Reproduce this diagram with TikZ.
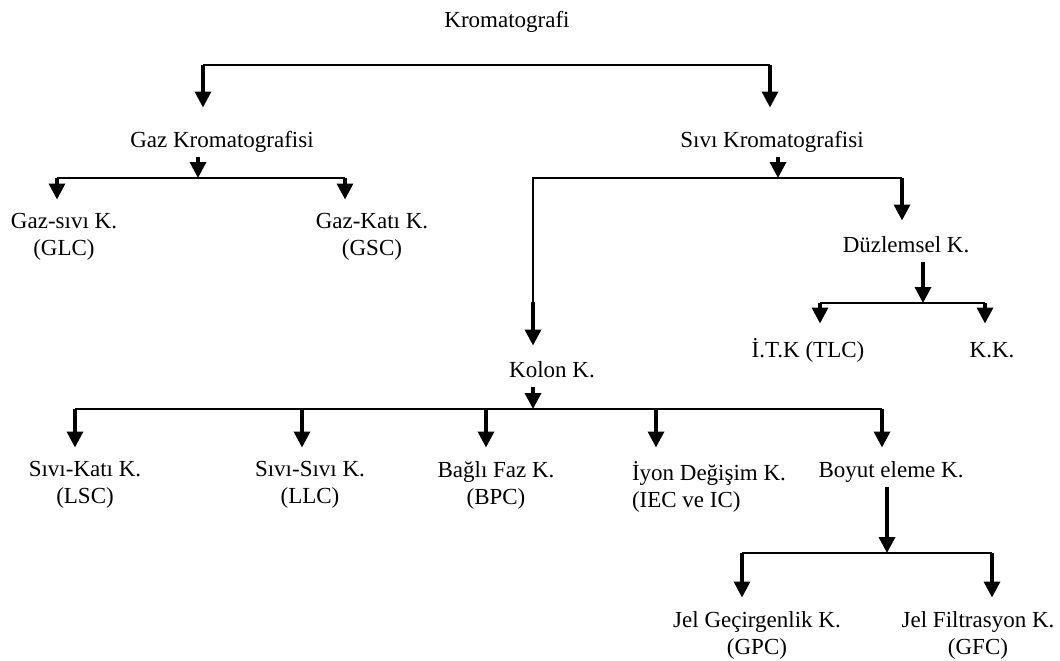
\documentclass[tikz,border=0pt]{standalone}
\usepackage{fontspec}
\setmainfont{Liberation Serif}
\usetikzlibrary{arrows.meta}

\begin{document}
\begin{tikzpicture}[x=0.5pt,y=-0.5pt,
  lbl/.style={font=\fontsize{11.5}{13.6}\selectfont,inner sep=0pt,outer xsep=0pt,outer ysep=4pt,anchor=north},
  one/.style={lbl,text height=8pt,text depth=2.5pt},
  two/.style={lbl,align=center},
  bar/.style={line width=0.7pt},
  arr/.style={line width=1.7pt,-{Triangle[width=8pt,length=8pt]},shorten >=3pt},
  fork/.style={arr,shorten >=0pt,shorten <=-2pt}]
\useasboundingbox (0,0) rectangle (1060,660);
% labels
\node [one] (krom) at (507,3.5) {Kromatografi};
\node [one] (gaz) at (222,123.5) {Gaz Kromatografisi};
\node [one] (sivi) at (772,123.5) {Sıvı Kromatografisi};
\node [two] (gsv) at (64,205.5) {Gaz-sıvı K.\\(GLC)};
\node [two] (gkt) at (372,205.5) {Gaz-Katı K.\\(GSC)};
\node [one] (duz) at (906,228.5) {Düzlemsel K.};
\node [one] (itk) at (808,333.5) {İ.T.K (TLC)};
\node [one] (kk) at (992,333.5) {K.K.};
\node [one] (kol) at (552,353.5) {Kolon K.};
\node [two] (lsc) at (85,453.5) {Sıvı-Katı K.\\(LSC)};
\node [two] (llc) at (310,453.5) {Sıvı-Sıvı K.\\(LLC)};
\node [two] (bpc) at (496,453.5) {Bağlı Faz K.\\(BPC)};
\node [lbl,align=left,anchor=north west] (iec) at (632,453.5) {İyon Değişim K.\\(IEC ve IC)};
\node [one] (boy) at (891,453.5) {Boyut eleme K.};
\node [two] (gpc) at (757,603.5) {Jel Geçirgenlik K.\\(GPC)};
\node [two] (gfc) at (978,603.5) {Jel Filtrasyon K.\\(GFC)};

% Kromatografi
\coordinate (kL) at (203,65);
\coordinate (kR) at (770,65);
\draw [bar] (kL) -- (kR);
\draw [arr,shorten >=8pt] (kL) -- (kL |- gaz.north);
\draw [arr,shorten >=8pt] (kR) -- (kR |- sivi.north);

% Gaz
\coordinate (gF) at (198,178);
\coordinate (gL) at (57,178);
\coordinate (gR) at (345,178);
\draw [fork] (gF |- gaz.south) -- (gF);
\draw [bar] (gL) -- (gR);
\foreach \fk/\nm in {gL/gsv,gR/gkt}
  \draw [arr] (\fk) -- (\fk |- \nm.north);

% Sivi
\coordinate (sF) at (778,178);
\coordinate (sL) at (533,178);
\coordinate (sR) at (902,178);
\coordinate (sK) at (533,302);
\draw [fork] (sF |- sivi.south) -- (sF);
\draw [bar] (sK) -- (sL) -- (sR);
\draw [arr,shorten >=4pt] (sR) -- (sR |- duz.north);
\draw [arr,shorten >=4pt] (sK) -- (sK |- kol.north);

% Duzlemsel
\coordinate (dF) at (923,303);
\coordinate (dL) at (820,303);
\coordinate (dR) at (985,303);
\draw [fork] (dF |- duz.south) -- (dF);
\draw [bar] (dL) -- (dR);
\foreach \fk/\nm in {dL/itk,dR/kk}
  \draw [arr,shorten >=5pt] (\fk) -- (\fk |- \nm.north);

% Kolon
\coordinate (kF) at (533,409);
\draw [fork] (kF |- kol.south) -- (kF);
\foreach \nm/\x in {lsc/75,llc/302,bpc/486,iec/656,boy/882}
 { \coordinate (k-\nm) at (\x,409);
   \draw [arr] (k-\nm) -- (k-\nm |- \nm.north); }
\draw [bar] (k-lsc) -- (k-boy);

% Boyut eleme
\coordinate (bF) at (887,553);
\coordinate (bL) at (742,553);
\coordinate (bR) at (992,553);
\draw [fork] (bF |- boy.south) -- (bF);
\draw [bar] (bL) -- (bR);
\foreach \fk/\nm in {bL/gpc,bR/gfc}
  \draw [arr] (\fk) -- (\fk |- \nm.north);
\end{tikzpicture}
\end{document}
